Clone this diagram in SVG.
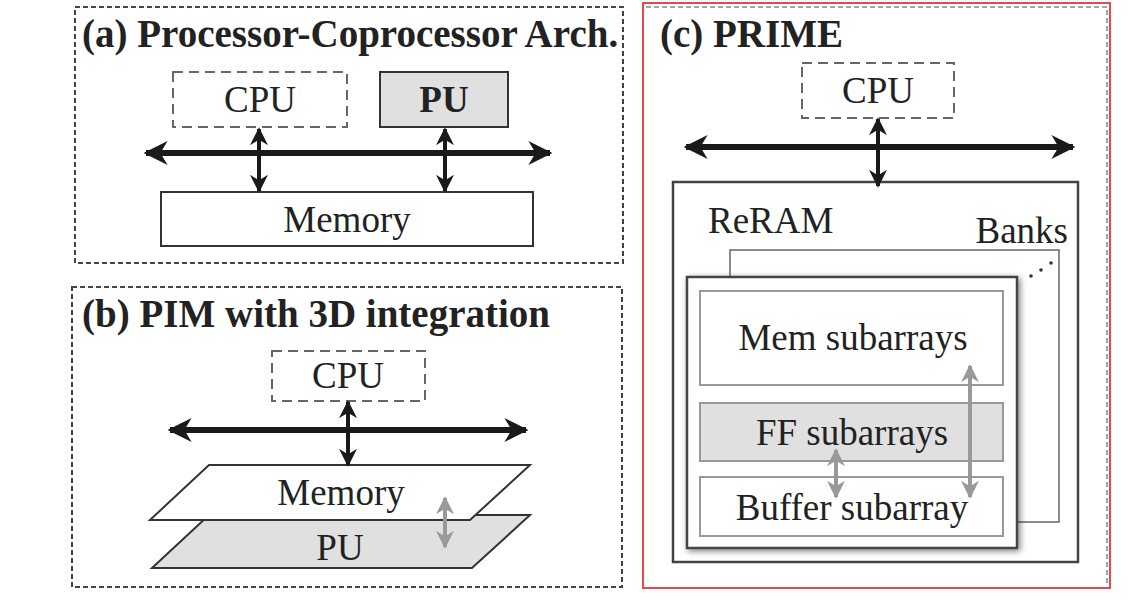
<svg xmlns="http://www.w3.org/2000/svg" width="1138" height="608" viewBox="0 0 1138 608">
<style>
text{font-family:"Liberation Serif","Times New Roman",serif;fill:#222;}
.t{font-size:39px;font-weight:bold;}
.l{font-size:37px;}
.panel{fill:none;stroke:#444;stroke-width:2;stroke-dasharray:5 3;}
.cpu{fill:#fff;stroke:#666;stroke-width:2;stroke-dasharray:10 6;}
.box{fill:#fff;stroke:#333;stroke-width:2;}
.gbox{fill:#e0e0e0;stroke:#333;stroke-width:2;}
.bus{stroke:#1a1a1a;stroke-width:6;fill:none;}
.v{stroke:#1a1a1a;stroke-width:4;fill:none;}
.g{stroke:#999;stroke-width:4;fill:none;}
.sub{fill:#fff;stroke:#999;stroke-width:2;}
</style>
<defs>
<marker id="ah" viewBox="0 0 10 10" refX="9" refY="5" markerWidth="4" markerHeight="4" orient="auto-start-reverse" markerUnits="strokeWidth"><path d="M0,0 L10,5 L0,10 L3,5 z" fill="#1a1a1a"/></marker>
<marker id="av" viewBox="0 0 10 10" refX="9" refY="5" markerWidth="4.5" markerHeight="4.5" orient="auto-start-reverse" markerUnits="strokeWidth"><path d="M0,0 L10,5 L0,10 L3,5 z" fill="#1a1a1a"/></marker>
<marker id="ag" viewBox="0 0 10 10" refX="9" refY="5" markerWidth="4.5" markerHeight="4.5" orient="auto-start-reverse" markerUnits="strokeWidth"><path d="M0,0 L10,5 L0,10 L3,5 z" fill="#999"/></marker>
<filter id="sh" x="-10%" y="-10%" width="125%" height="125%"><feGaussianBlur in="SourceAlpha" stdDeviation="3"/><feOffset dx="2" dy="2"/><feComponentTransfer><feFuncA type="linear" slope="0.5"/></feComponentTransfer><feMerge><feMergeNode/><feMergeNode in="SourceGraphic"/></feMerge></filter>
</defs>
<rect width="1138" height="608" fill="#fff"/>

<g id="panel-a">
<rect class="panel" x="75" y="7" width="548" height="256"/>
<text class="t" x="82" y="47">(a) Processor-Coprocessor Arch.</text>
</g>
<g id="a-cpu"><rect class="cpu" x="173" y="72" width="174" height="55"/><text class="l" x="260" y="112" text-anchor="middle">CPU</text></g>
<g id="a-pu"><rect class="gbox" x="380" y="72" width="128" height="55"/><text class="l" x="444" y="112" text-anchor="middle" font-weight="bold">PU</text></g>
<g id="a-mem"><rect class="box" x="161" y="192" width="372" height="54"/><text class="l" x="347" y="232" text-anchor="middle">Memory</text></g>

<g id="panel-b">
<rect class="panel" x="72" y="287" width="550" height="300"/>
<text class="t" x="82" y="327">(b) PIM with 3D integration</text>
</g>
<g id="b-cpu"><rect class="cpu" x="272" y="351" width="153" height="50"/><text class="l" x="348" y="388" text-anchor="middle">CPU</text></g>
<g id="b-pu"><polygon class="gbox" points="209,515 530,515 472,568 152,568"/><text class="l" x="340" y="560" text-anchor="middle">PU</text></g>
<g id="b-mem"><polygon class="box" points="209,465 530,465 470,520 150,520"/><text class="l" x="341" y="505" text-anchor="middle">Memory</text></g>

<g id="panel-c">
<rect x="643" y="3" width="467" height="585" fill="none" stroke="#e34a4a" stroke-width="2"/>
<path d="M646,7 H1107 V586" fill="none" stroke="#888" stroke-width="1.5" stroke-dasharray="5 3"/>
<text class="t" x="660" y="47">(c) PRIME</text>
</g>
<g id="c-cpu"><rect class="cpu" x="802" y="63" width="152" height="55"/><text class="l" x="878" y="103" text-anchor="middle">CPU</text></g>
<g id="c-reram">
<rect x="673" y="182" width="405" height="380" fill="#fff" stroke="#444" stroke-width="2.5"/>
<text class="l" x="708" y="233">ReRAM</text>
<text class="l" x="1068" y="243" text-anchor="end">Banks</text>
</g>
<g id="c-bank-back"><rect x="730" y="250" width="329" height="272" fill="#fff" stroke="#666" stroke-width="1.5"/></g>
<g id="c-dots"><circle cx="1031" cy="276" r="1.8" fill="#333"/><circle cx="1041" cy="270" r="1.8" fill="#333"/><circle cx="1051" cy="263" r="1.8" fill="#333"/></g>
<g id="c-bank-front"><rect x="687" y="277" width="330" height="271" fill="#fff" stroke="#444" stroke-width="2.5" filter="url(#sh)"/></g>
<g id="c-mem"><rect class="sub" x="700" y="291" width="303" height="94"/><text class="l" x="853" y="350" text-anchor="middle">Mem subarrays</text></g>
<g id="c-ff"><rect x="700" y="403" width="303" height="58" fill="#e0e0e0" stroke="#999" stroke-width="2"/><text class="l" x="852" y="445" text-anchor="middle">FF subarrays</text></g>
<g id="c-buf"><rect class="sub" x="700" y="477" width="303" height="59"/><text class="l" x="852" y="520" text-anchor="middle">Buffer subarray</text></g>

<g id="connectors">
<line class="bus" x1="146" y1="153" x2="550" y2="153" marker-start="url(#ah)" marker-end="url(#ah)"/>
<line class="v" x1="259" y1="129" x2="259" y2="191" marker-start="url(#av)" marker-end="url(#av)"/>
<line class="v" x1="445" y1="129" x2="445" y2="191" marker-start="url(#av)" marker-end="url(#av)"/>
<line class="bus" x1="170" y1="430" x2="526" y2="430" marker-start="url(#ah)" marker-end="url(#ah)"/>
<line class="v" x1="348" y1="402" x2="348" y2="465" marker-start="url(#av)" marker-end="url(#av)"/>
<line class="g" x1="445" y1="498" x2="445" y2="547" marker-start="url(#ag)" marker-end="url(#ag)"/>
<line class="bus" x1="686" y1="147" x2="1073" y2="147" marker-start="url(#ah)" marker-end="url(#ah)"/>
<line class="v" x1="878" y1="119" x2="878" y2="186" marker-start="url(#av)" marker-end="url(#av)"/>
<line class="g" x1="836" y1="450" x2="836" y2="497" marker-start="url(#ag)" marker-end="url(#ag)"/>
<line class="g" x1="970" y1="366" x2="970" y2="497" marker-start="url(#ag)" marker-end="url(#ag)"/>
</g>
</svg>
